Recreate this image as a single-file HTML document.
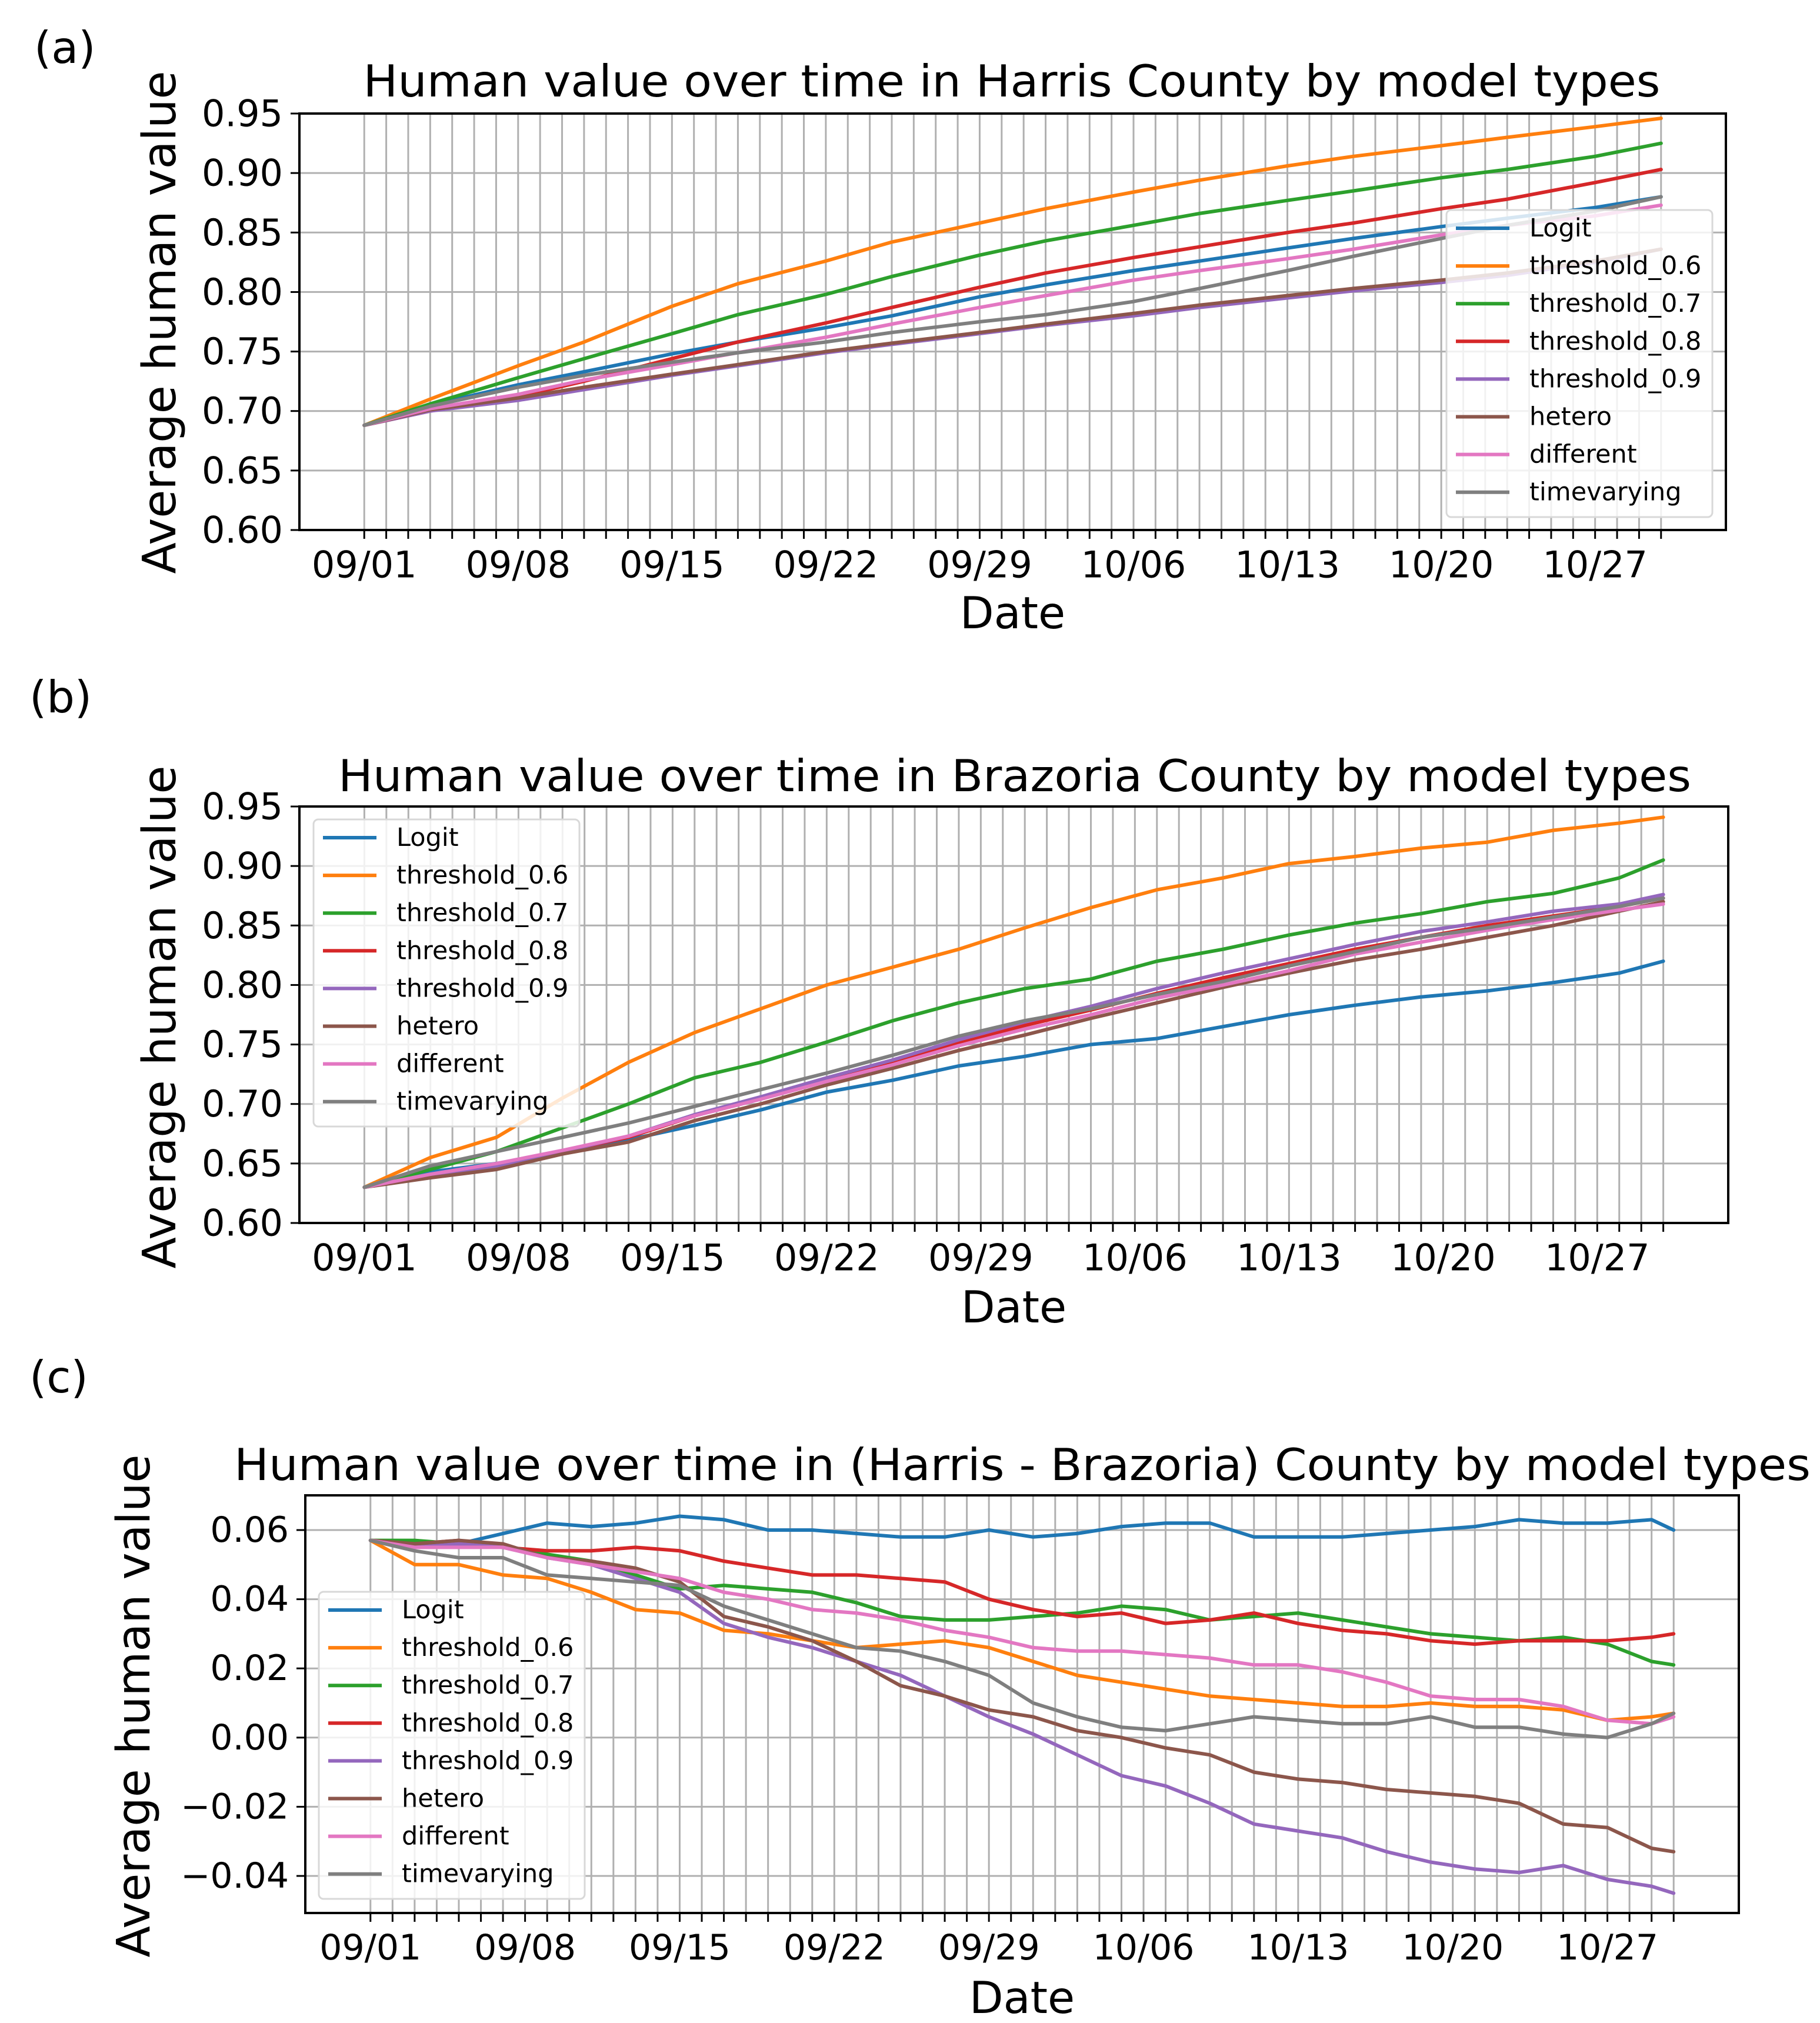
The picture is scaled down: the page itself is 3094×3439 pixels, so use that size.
<!DOCTYPE html>
<html><head><meta charset="utf-8">
<style>
html,body{margin:0;padding:0;background:#fff;}
svg{display:block;font-family:"DejaVu Sans","Liberation Sans",sans-serif;}
</style></head>
<body>
<svg id="fig" width="3094" height="3439" viewBox="0 0 3094 3439" xmlns="http://www.w3.org/2000/svg"></svg>
<script>
// ---- shared data ----
const seriesNames = ["Logit","threshold_0.6","threshold_0.7","threshold_0.8","threshold_0.9","hetero","different","timevarying"];
const seriesColors = ["#1f77b4","#ff7f0e","#2ca02c","#d62728","#9467bd","#8c564b","#e377c2","#7f7f7f"];
const xTickDays = [0,7,14,21,28,35,42,49,56];
const xTickLabels = ["09/01","09/08","09/15","09/22","09/29","10/06","10/13","10/20","10/27"];

// ---- panel (a) Harris ----
const daysA = [0,3,7,10,14,17,21,24,28,31,35,38,42,45,49,52,56,59];
const aLogit = [0.688,0.705,0.722,0.733,0.748,0.758,0.770,0.780,0.796,0.806,0.818,0.826,0.837,0.845,0.855,0.862,0.871,0.880];
const aT06   = [0.688,0.710,0.738,0.758,0.788,0.807,0.826,0.842,0.858,0.870,0.884,0.894,0.906,0.914,0.923,0.930,0.939,0.946];
const aT07   = [0.688,0.706,0.728,0.744,0.765,0.781,0.798,0.813,0.831,0.843,0.856,0.866,0.877,0.885,0.896,0.903,0.914,0.925];
const aT08   = [0.688,0.700,0.712,0.725,0.744,0.758,0.774,0.787,0.804,0.816,0.829,0.838,0.850,0.858,0.870,0.878,0.892,0.903];
const aT09   = [0.688,0.700,0.709,0.718,0.730,0.738,0.749,0.756,0.765,0.772,0.780,0.787,0.795,0.801,0.808,0.814,0.825,0.836];
const aHet   = [0.688,0.701,0.711,0.720,0.731,0.739,0.750,0.757,0.766,0.773,0.782,0.789,0.797,0.803,0.810,0.816,0.826,0.836];
const aDiff  = [0.688,0.702,0.714,0.726,0.739,0.749,0.762,0.773,0.787,0.797,0.810,0.818,0.828,0.836,0.848,0.856,0.864,0.873];
const aTv    = [0.688,0.704,0.720,0.730,0.741,0.749,0.758,0.766,0.775,0.781,0.792,0.803,0.818,0.830,0.845,0.856,0.868,0.880];
const seriesA = [aLogit,aT06,aT07,aT08,aT09,aHet,aDiff,aTv];
const yTicksA = [0.60,0.65,0.70,0.75,0.80,0.85,0.90,0.95];
const yTickLabelsA = ["0.60","0.65","0.70","0.75","0.80","0.85","0.90","0.95"];

// ---- panel (b) Brazoria ----
const daysB = [0,3,6,9,12,15,18,21,24,27,30,33,36,39,42,45,48,51,54,57,59];
const bLogit = [0.630,0.643,0.650,0.660,0.670,0.682,0.695,0.710,0.720,0.732,0.740,0.750,0.755,0.765,0.775,0.783,0.790,0.795,0.802,0.810,0.820];
const bT06   = [0.630,0.655,0.672,0.705,0.735,0.760,0.780,0.800,0.815,0.830,0.848,0.865,0.880,0.890,0.902,0.908,0.915,0.920,0.930,0.936,0.941];
const bT07   = [0.630,0.645,0.660,0.680,0.700,0.722,0.735,0.752,0.770,0.785,0.797,0.805,0.820,0.830,0.842,0.852,0.860,0.870,0.877,0.890,0.905];
const bT08   = [0.630,0.640,0.648,0.660,0.672,0.690,0.705,0.720,0.735,0.751,0.766,0.779,0.793,0.806,0.818,0.830,0.840,0.850,0.858,0.866,0.873];
const bT09   = [0.630,0.640,0.648,0.660,0.673,0.691,0.706,0.722,0.737,0.754,0.769,0.782,0.797,0.810,0.822,0.834,0.845,0.853,0.862,0.868,0.876];
const bHet   = [0.630,0.638,0.645,0.658,0.668,0.686,0.700,0.716,0.730,0.745,0.758,0.772,0.785,0.798,0.810,0.821,0.830,0.840,0.850,0.862,0.870];
const bDiff  = [0.630,0.641,0.650,0.661,0.673,0.690,0.704,0.719,0.733,0.749,0.763,0.775,0.789,0.800,0.812,0.826,0.836,0.846,0.855,0.863,0.868];
const bTv    = [0.630,0.648,0.660,0.672,0.684,0.698,0.712,0.726,0.741,0.757,0.770,0.780,0.792,0.803,0.816,0.828,0.840,0.848,0.857,0.866,0.873];
const seriesB = [bLogit,bT06,bT07,bT08,bT09,bHet,bDiff,bTv];

// ---- panel (c) Harris - Brazoria ----
const daysC = [0,2,4,6,8,10,12,14,16,18,20,22,24,26,28,30,32,34,36,38,40,42,44,46,48,50,52,54,56,58,59];
const cLogit = [0.057,0.056,0.056,0.059,0.062,0.061,0.062,0.064,0.063,0.060,0.060,0.059,0.058,0.058,0.060,0.058,0.059,0.061,0.062,0.062,0.058,0.058,0.058,0.059,0.060,0.061,0.063,0.062,0.062,0.063,0.060];
const cT06   = [0.057,0.050,0.050,0.047,0.046,0.042,0.037,0.036,0.031,0.030,0.028,0.026,0.027,0.028,0.026,0.022,0.018,0.016,0.014,0.012,0.011,0.010,0.009,0.009,0.010,0.009,0.009,0.008,0.005,0.006,0.007];
const cT07   = [0.057,0.057,0.056,0.055,0.053,0.051,0.047,0.043,0.044,0.043,0.042,0.039,0.035,0.034,0.034,0.035,0.036,0.038,0.037,0.034,0.035,0.036,0.034,0.032,0.030,0.029,0.028,0.029,0.027,0.022,0.021];
const cT08   = [0.057,0.056,0.057,0.055,0.054,0.054,0.055,0.054,0.051,0.049,0.047,0.047,0.046,0.045,0.040,0.037,0.035,0.036,0.033,0.034,0.036,0.033,0.031,0.030,0.028,0.027,0.028,0.028,0.028,0.029,0.030];
const cT09   = [0.057,0.055,0.056,0.055,0.052,0.050,0.046,0.042,0.033,0.029,0.026,0.022,0.018,0.012,0.006,0.001,-0.005,-0.011,-0.014,-0.019,-0.025,-0.027,-0.029,-0.033,-0.036,-0.038,-0.039,-0.037,-0.041,-0.043,-0.045];
const cHet   = [0.057,0.056,0.057,0.056,0.052,0.051,0.049,0.045,0.035,0.032,0.028,0.022,0.015,0.012,0.008,0.006,0.002,0.000,-0.003,-0.005,-0.010,-0.012,-0.013,-0.015,-0.016,-0.017,-0.019,-0.025,-0.026,-0.032,-0.033];
const cDiff  = [0.057,0.055,0.055,0.055,0.052,0.050,0.048,0.046,0.042,0.040,0.037,0.036,0.034,0.031,0.029,0.026,0.025,0.025,0.024,0.023,0.021,0.021,0.019,0.016,0.012,0.011,0.011,0.009,0.005,0.004,0.006];
const cTv    = [0.057,0.054,0.052,0.052,0.047,0.046,0.045,0.044,0.038,0.034,0.030,0.026,0.025,0.022,0.018,0.010,0.006,0.003,0.002,0.004,0.006,0.005,0.004,0.004,0.006,0.003,0.003,0.001,0.000,0.004,0.007];
const seriesC = [cLogit,cT06,cT07,cT08,cT09,cHet,cDiff,cTv];
const yTicksC = [-0.04,-0.02,0.00,0.02,0.04,0.06];
const yTickLabelsC = ["\u22120.04","\u22120.02","0.00","0.02","0.04","0.06"];

const NS = "http://www.w3.org/2000/svg";
const fig = document.getElementById("fig");
function mk(tag, attrs, parent){
  const e = document.createElementNS(NS, tag);
  for (const k in attrs) e.setAttribute(k, attrs[k]);
  (parent||fig).appendChild(e);
  return e;
}

function drawPanel(p){
  const g = mk("g", {});
  
  
  const xS = d => p.x0 + (d - p.xmin) / (p.xmax - p.xmin) * (p.x1 - p.x0);
  const yS = v => p.y1 - (v - p.ymin) / (p.ymax - p.ymin) * (p.y1 - p.y0);
  for (let d = 0; d <= 59; d++){
    const x = xS(d);
    const gl = mk("line", {x1:x, x2:x, y1:p.y0, y2:p.y1, stroke:"#b0b0b0", "stroke-width":3}, g);
    
    
    const tk = mk("line", {x1:x, x2:x, y1:p.y1, y2:p.y1+15, stroke:"#000", "stroke-width":3}, g);
    
    
  }
  p.yTicks.forEach((v,i) => {
    const y = yS(v);
    const gl = mk("line", {x1:p.x0, x2:p.x1, y1:y, y2:y, stroke:"#b0b0b0", "stroke-width":3}, g);
    
    
    const tk = mk("line", {x1:p.x0-15, x2:p.x0, y1:y, y2:y, stroke:"#000", "stroke-width":3}, g);
    
    
    const t = mk("text", {x:p.x0-28, y:y, "font-size":p.tickFs, "text-anchor":"end", "dominant-baseline":"central", fill:"#000"}, g);
    t.textContent = p.yLabels[i];
    
    
  });
  xTickDays.forEach((d,i) => {
    const t = mk("text", {x:xS(d), y:p.xLabY, "font-size":p.tickFs, "text-anchor":"middle", "dominant-baseline":"central", fill:"#000"}, g);
    t.textContent = xTickLabels[i];
    
    
  });
  p.series.forEach((arr,si) => {
    const pts = arr.map((v,i) => xS(p.days[i]).toFixed(1) + "," + yS(v).toFixed(1)).join(" ");
    const pl = mk("polyline", {points:pts, fill:"none", stroke:seriesColors[si], "stroke-width":6, "stroke-linejoin":"round", "stroke-linecap":"round"}, g);
    
    
  });
  const fr = mk("rect", {x:p.x0, y:p.y0, width:p.x1-p.x0, height:p.y1-p.y0, fill:"none", stroke:"#000", "stroke-width":4}, g);
  
  
  const lg = mk("g", {}, g);
  
  
  mk("rect", {x:p.lx, y:p.ly, width:452, height:522, rx:8, fill:"#fff", "fill-opacity":0.82, stroke:"#d8d8d8", "stroke-width":3}, lg);
  seriesNames.forEach((n,i) => {
    const y = p.ly + 31 + i*64.1;
    const ent = mk("g", {}, lg);
    
    
    mk("line", {x1:p.lx+16, x2:p.lx+107, y1:y, y2:y, stroke:seriesColors[i], "stroke-width":6}, ent);
    const t = mk("text", {x:p.lx+141, y:y, "font-size":43, "dominant-baseline":"central", fill:"#000"}, ent);
    t.textContent = n;
  });
  const tt = mk("text", {x:p.titleX, y:p.titleY, "font-size":75, "text-anchor":"middle", "dominant-baseline":"central", fill:"#000", textLength:p.titleLen, lengthAdjust:"spacingAndGlyphs"}, g);
  tt.textContent = p.title;
  
  
  const xl = mk("text", {x:(p.x0+p.x1)/2, y:p.xTitleY, "font-size":75, "text-anchor":"middle", "dominant-baseline":"central", fill:"#000"}, g);
  xl.textContent = "Date";
  
  
  const yl = mk("text", {x:0, y:0, "font-size":78, "text-anchor":"middle", "dominant-baseline":"central", fill:"#000", transform:"translate("+p.yTitleX+","+p.yTitleY+") rotate(-90)"}, g);
  yl.textContent = "Average human value";
  
  
  const pl = mk("text", {x:p.tagX, y:p.tagY, "font-size":75, "dominant-baseline":"central", fill:"#000"}, g);
  pl.textContent = p.tag;
  
  
}

drawPanel({name:"panel-a-harris", x0:509, x1:2934, y0:193, y1:901, xmin:-2.95, xmax:61.95, ymin:0.60, ymax:0.95,
  days:daysA, series:seriesA, yTicks:yTicksA, yLabels:yTickLabelsA, tickFs:62, xLabY:960,
  lx:2459, ly:357, title:"Human value over time in Harris County by model types", titleX:1720, titleY:138, titleLen:2205,
  xTitleY:1042, yTitleX:272, yTitleY:548, tag:"(a)", tagX:58, tagY:81});
drawPanel({name:"panel-b-brazoria", x0:509, x1:2938, y0:1371, y1:2079, xmin:-2.95, xmax:61.95, ymin:0.60, ymax:0.95,
  days:daysB, series:seriesB, yTicks:yTicksA, yLabels:yTickLabelsA, tickFs:62, xLabY:2138,
  lx:533, ly:1393, title:"Human value over time in Brazoria County by model types", titleX:1725, titleY:1319, titleLen:2300,
  xTitleY:2222, yTitleX:272, yTitleY:1729, tag:"(b)", tagX:50, tagY:1185});
drawPanel({name:"panel-c-difference", x0:519, x1:2956, y0:2542, y1:3252, xmin:-2.95, xmax:61.95, ymin:-0.04-(3252-3189)/5880, ymax:0.06+(2601-2542)/5880,
  days:daysC, series:seriesC, yTicks:yTicksC, yLabels:yTickLabelsC, tickFs:60, xLabY:3311,
  lx:542, ly:2706, title:"Human value over time in (Harris - Brazoria) County by model types", titleX:1738, titleY:2490, titleLen:2680,
  xTitleY:3396, yTitleX:228, yTitleY:2900, tag:"(c)", tagX:50, tagY:2341});
</script>
</body></html>
